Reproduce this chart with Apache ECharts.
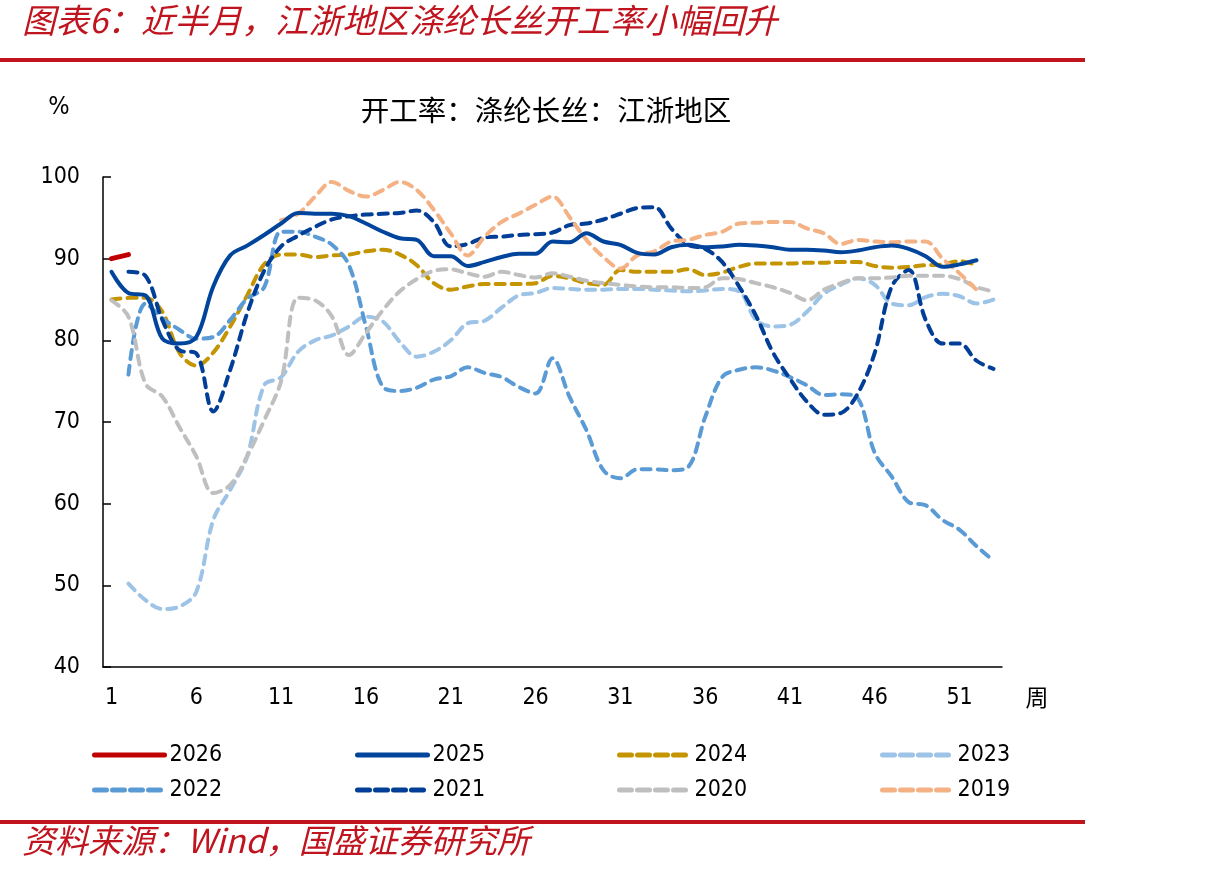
<!DOCTYPE html>
<html>
<head>
<meta charset="utf-8">
<script src="https://cdn.jsdelivr.net/npm/echarts@6/dist/echarts.min.js"></script>
<style>
html,body{margin:0;padding:0;background:#fff;}
#chart{width:1205px;height:875px;}
</style>
</head>
<body>
<div id="chart"></div>
<script>
const weeks = ['1','2','3','4','5','6','7','8','9','10','11','12','13','14','15','16','17','18','19','20','21','22','23','24','25','26','27','28','29','30','31','32','33','34','35','36','37','38','39','40','41','42','43','44','45','46','47','48','49','50','51','52','53'];
const yTicks = [40, 50, 60, 70, 80, 90, 100];

const s2026 = [90.0, 90.5];
const s2025 = [88.4, 85.8, 85.5, 80.2, 79.6, 80.4, 86.6, 90.4, 91.6, 92.9, 94.3, 95.6, 95.5, 95.5, 95.2, 94.3, 93.3, 92.5, 92.3, 90.3, 90.3, 89.1, 89.6, 90.2, 90.6, 90.6, 92.1, 92.0, 93.1, 92.1, 91.7, 90.7, 90.5, 91.4, 91.7, 91.4, 91.5, 91.7, 91.6, 91.4, 91.1, 91.1, 91.0, 90.8, 91.0, 91.4, 91.6, 91.2, 90.3, 89.0, 89.3, 89.8];
const s2024 = [85.0, 85.2, 85.2, 83.5, 78.5, 76.9, 78.5, 81.7, 85.5, 89.3, 90.5, 90.5, 90.2, 90.4, 90.5, 90.9, 91.1, 90.5, 89.2, 87.0, 86.2, 86.6, 86.9, 86.9, 86.9, 87.0, 87.9, 87.6, 87.0, 86.8, 88.6, 88.4, 88.4, 88.4, 88.7, 88.0, 88.3, 89.0, 89.4, 89.4, 89.4, 89.5, 89.5, 89.6, 89.6, 89.1, 88.9, 89.0, 89.2, 89.3, 89.7, 89.2];
const s2023 = [null, 50.2, 48.2, 47.1, 47.4, 49.2, 58.0, 61.7, 65.8, 74.5, 75.5, 78.6, 80.0, 80.6, 81.7, 82.9, 82.3, 79.8, 78.0, 78.6, 80.0, 82.1, 82.4, 84.0, 85.5, 85.8, 86.4, 86.3, 86.2, 86.2, 86.3, 86.3, 86.2, 86.1, 86.0, 86.1, 86.3, 86.0, 82.5, 81.7, 81.9, 83.5, 85.7, 86.8, 87.6, 86.8, 84.5, 84.3, 85.3, 85.7, 85.4, 84.5, 85.0];
const s2022 = [null, 75.8, 84.5, 82.7, 81.3, 80.2, 80.4, 82.5, 85.1, 86.5, 93.3, 93.3, 92.7, 91.7, 89.2, 81.7, 74.3, 73.8, 74.2, 75.2, 75.6, 76.7, 76.0, 75.5, 74.3, 73.5, 77.8, 73.1, 69.0, 64.1, 63.1, 64.2, 64.2, 64.1, 64.5, 70.6, 75.5, 76.4, 76.7, 76.3, 75.5, 74.5, 73.3, 73.4, 72.9, 66.2, 63.3, 60.2, 59.8, 58.0, 56.8, 54.8, 53.0];
const s2021 = [null, 88.4, 87.9, 82.5, 78.8, 78.4, 71.3, 76.4, 83.3, 88.5, 91.5, 92.8, 93.9, 94.8, 95.2, 95.4, 95.5, 95.6, 95.9, 94.5, 91.5, 91.8, 92.6, 92.7, 92.9, 93.0, 93.2, 94.1, 94.3, 94.8, 95.5, 96.2, 96.3, 93.7, 91.7, 91.2, 89.6, 86.6, 83.0, 78.5, 75.3, 72.5, 70.9, 71.1, 73.5, 78.5, 86.6, 88.6, 82.5, 79.6, 79.6, 77.5, 76.5];
const s2020 = [84.9, 82.9, 74.7, 73.1, 69.4, 65.8, 61.3, 62.3, 65.8, 70.2, 75.0, 85.2, 84.9, 82.9, 78.2, 80.9, 83.7, 86.0, 87.5, 88.5, 88.7, 88.2, 87.8, 88.4, 88.0, 87.7, 88.2, 87.8, 87.3, 87.0, 86.8, 86.6, 86.5, 86.5, 86.4, 86.5, 87.6, 87.5, 87.0, 86.5, 85.8, 84.9, 86.2, 87.0, 87.6, 87.6, 87.7, 87.9, 87.9, 87.9, 87.5, 86.5, 86.0];
const s2019 = [null, null, null, null, null, null, null, null, null, null, 94.7, 95.5, 97.6, 99.4, 98.3, 97.6, 98.4, 99.4, 98.4, 96.0, 93.1, 90.4, 92.7, 94.5, 95.5, 96.6, 97.6, 95.1, 92.3, 90.2, 88.8, 90.4, 90.9, 92.1, 92.3, 92.9, 93.3, 94.3, 94.4, 94.5, 94.5, 93.7, 93.1, 91.8, 92.3, 92.1, 92.0, 92.1, 92.1, 90.0, 88.2, 86.2];

const seriesDefs = [
  {name: '2026', data: s2026, color: '#C00000', dashed: false, width: 5},
  {name: '2025', data: s2025, color: '#00449C', dashed: false, width: 4},
  {name: '2024', data: s2024, color: '#C49500', dashed: true, width: 4},
  {name: '2023', data: s2023, color: '#9DC3E6', dashed: true, width: 4},
  {name: '2022', data: s2022, color: '#5B9BD5', dashed: true, width: 4},
  {name: '2021', data: s2021, color: '#003E97', dashed: true, width: 4},
  {name: '2020', data: s2020, color: '#BFBFBF', dashed: true, width: 4},
  {name: '2019', data: s2019, color: '#F4B183', dashed: true, width: 4}
];

const zOrder = {'2026': 10, '2025': 9};
const series = seriesDefs.map(function (d) {
  return {
    name: d.name,
    type: 'line',
    data: d.data,
    smooth: 0.35,
    showSymbol: false,
    symbol: 'none',
    z: zOrder[d.name] || 2,
    color: d.color,
    lineStyle: {
      color: d.color,
      width: d.width,
      type: d.dashed ? [9, 7] : 'solid',
      cap: 'round',
      join: 'round'
    },
    emphasis: {disabled: true}
  };
});

const columns = [['2026', '2022'], ['2025', '2021'], ['2024', '2020'], ['2023', '2019']];
const colLeft = [92, 355, 617, 880];
const legends = columns.map(function (col, i) {
  return {
    orient: 'vertical',
    left: colLeft[i],
    top: 743,
    padding: 0,
    itemGap: 11,
    itemWidth: 70,
    itemHeight: 14,
    data: col.map(function (n) {
      const d = seriesDefs.find(function (s) { return s.name === n; });
      return {
        name: n,
        itemStyle: {opacity: 0},
        lineStyle: {
          color: d.color,
          width: 5,
          type: d.dashed ? [12, 6] : 'solid',
          cap: 'round'
        }
      };
    }),
    textStyle: {
      fontFamily: 'DejaVu Sans Condensed, DejaVu Sans, sans-serif',
      fontSize: 23,
      color: '#000',
      lineHeight: 24
    },
    selectedMode: false
  };
});

const chart = echarts.init(document.getElementById('chart'), null, {renderer: 'canvas'});
chart.setOption({
  animation: false,
  backgroundColor: '#fff',
  grid: {left: 103, right: 203, top: 177, bottom: 208, containLabel: false},
  xAxis: {
    type: 'category',
    data: weeks,
    boundaryGap: true,
    axisLine: {show: true, lineStyle: {color: '#000', width: 1.5}},
    axisTick: {show: false},
    axisLabel: {
      interval: 4,
      margin: 20,
      fontFamily: 'DejaVu Sans Condensed, DejaVu Sans, sans-serif',
      fontSize: 23,
      color: '#000'
    },
    splitLine: {show: false}
  },
  yAxis: {
    type: 'value',
    min: yTicks[0],
    max: yTicks[yTicks.length - 1],
    interval: 10,
    axisLine: {show: true, lineStyle: {color: '#000', width: 1.5}},
    axisTick: {show: true, inside: true, length: 8, lineStyle: {color: '#000', width: 1.5}},
    axisLabel: {
      margin: 23,
      fontFamily: 'DejaVu Sans Condensed, DejaVu Sans, sans-serif',
      fontSize: 23,
      color: '#000'
    },
    splitLine: {show: false}
  },
  legend: legends,
  series: series,
  graphic: [
    {type: 'rect', left: 0, top: 58, shape: {width: 1085, height: 4}, style: {fill: '#C0141E'}, silent: true},
    {type: 'rect', left: 0, top: 820, shape: {width: 1085, height: 4}, style: {fill: '#C0141E'}, silent: true},
    {type: 'text', left: 22, top: 4, style: {text: '图表6：近半月，江浙地区涤纶长丝开工率小幅回升', fill: '#C0141E', font: 'italic 33.5px "Noto Sans CJK SC", sans-serif'}},
    {type: 'text', left: 22, top: 824, style: {text: '资料来源：Wind，国盛证券研究所', fill: '#C0141E', font: 'italic 33px "Noto Sans CJK SC", sans-serif'}},
    {type: 'text', x: 546, y: 110, style: {text: '开工率：涤纶长丝：江浙地区', fill: '#000', font: '28.5px "Noto Sans CJK SC", sans-serif', align: 'center', verticalAlign: 'middle'}},
    {type: 'text', x: 59, y: 107, style: {text: '%', fill: '#000', font: '25px "DejaVu Sans Condensed", "DejaVu Sans", sans-serif', align: 'center', verticalAlign: 'middle'}},
    {type: 'text', x: 1037, y: 697, style: {text: '周', fill: '#000', font: '23px "Noto Sans CJK SC", sans-serif', align: 'center', verticalAlign: 'middle'}}
  ]
});
</script>
</body>
</html>
